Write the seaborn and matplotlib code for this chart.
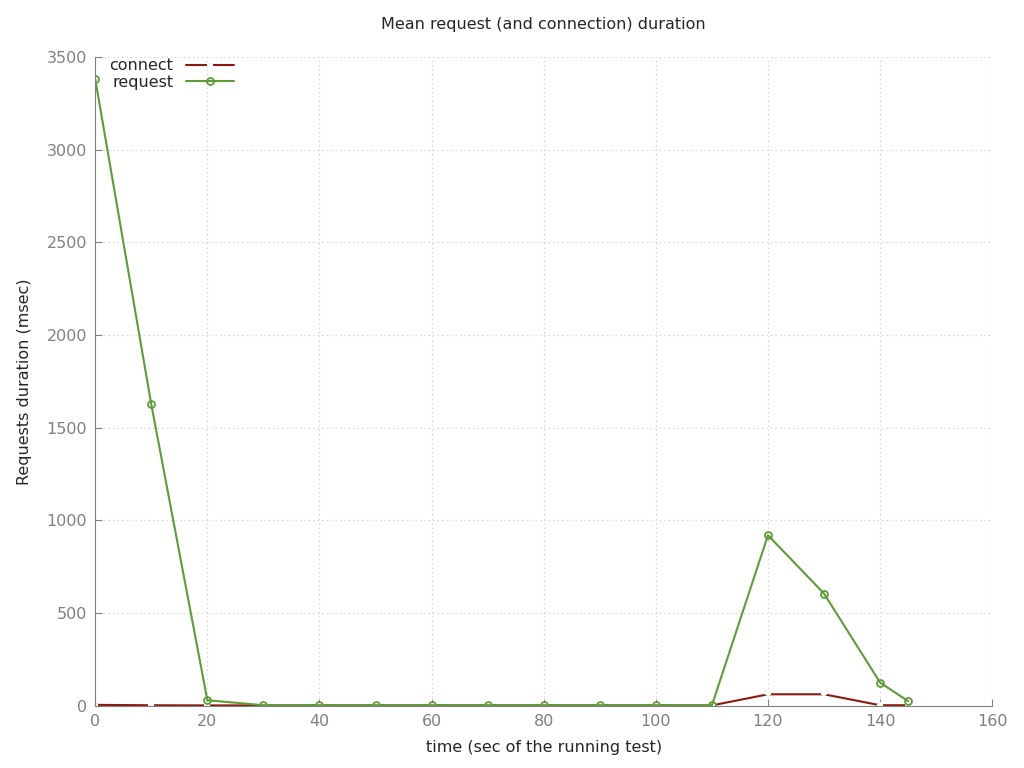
import matplotlib
matplotlib.use('Agg')
import matplotlib.pyplot as plt
import seaborn as sns
import pandas as pd

# data
times = [0, 10, 20, 30, 40, 50, 60, 70, 80, 90, 100, 110, 120, 130, 140, 145]
connect = [5, 3, 2, 2, 2, 2, 2, 2, 2, 2, 2, 2, 62, 62, 3, 3]
request = [3380, 1625, 30, 3, 3, 3, 3, 3, 3, 3, 3, 3, 920, 605, 125, 25]

df = pd.DataFrame({'time': times, 'connect': connect, 'request': request})

sns.set_style('white')
plt.rcParams['font.family'] = ['DejaVu Sans']

fig = plt.figure(figsize=(10.24, 7.68), dpi=100)
ax = fig.add_axes([0.093, 0.081, 0.876, 0.845])

sns.lineplot(data=df, x='time', y='connect', ax=ax, color='#8b1a0e', marker='+',
             markersize=5, markeredgewidth=1.5, linewidth=1.5, label='connect')
sns.lineplot(data=df, x='time', y='request', ax=ax, color='#5e9c36', marker='o',
             markersize=5, markerfacecolor='none', markeredgecolor='#5e9c36',
             markeredgewidth=1.3, linewidth=1.5, label='request')

ax.set_xlim(0, 160)
ax.set_ylim(0, 3500)
ax.set_xticks(range(0, 161, 20))
ax.set_yticks(range(0, 3501, 500))
ax.grid(True, color='#c8c8c8', linestyle=(0, (1, 3)), linewidth=0.8)
for s in ['top', 'right']:
    ax.spines[s].set_visible(False)
for s in ['left', 'bottom']:
    ax.spines[s].set_color('#808080')
ax.tick_params(direction='in', length=5, colors='#808080', labelsize=11.5, pad=6,
               bottom=True, left=True)
ax.set_xlabel('time (sec of the running test)', fontsize=11.5, labelpad=8)
ax.set_ylabel('Requests duration (msec)', fontsize=11.5, labelpad=10)
ax.set_title('Mean request (and connection) duration', fontsize=11.5, pad=20)

leg = ax.legend(loc='upper left', frameon=False, fontsize=11.5, markerfirst=False,
                bbox_to_anchor=(0.0, 1.02), handlelength=3, labelspacing=0.1)
for t in leg.get_texts():
    t.set_ha('right')

fig.savefig('out.png', dpi=100)
